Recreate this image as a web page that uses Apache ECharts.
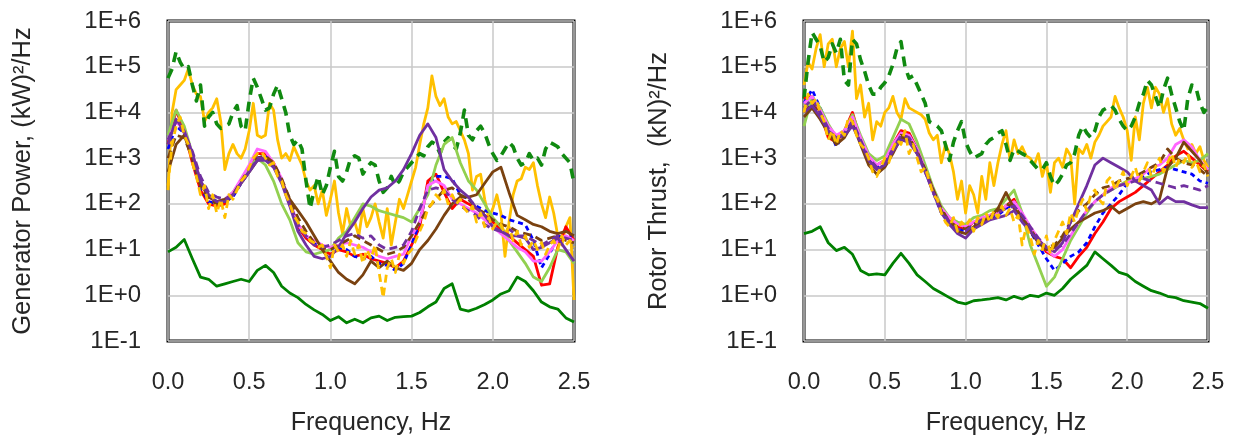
<!DOCTYPE html>
<html>
<head>
<meta charset="utf-8">
<script src="https://cdn.jsdelivr.net/npm/echarts@6/dist/echarts.min.js"></script>
<style>
  html, body { margin: 0; padding: 0; background: #fff; }
  #chart { width: 1237px; height: 441px; }
</style>
</head>
<body>
<div id="chart"></div>
<script>
// Frequency grids (Hz): coarse 0.05 Hz spectra and fine 0.025 Hz spectra
const freqCoarse = [0, 0.05, 0.1, 0.15, 0.2, 0.25, 0.3, 0.35, 0.4, 0.45,
  0.5, 0.55, 0.6, 0.65, 0.7, 0.75, 0.8, 0.85, 0.9, 0.95,
  1.0, 1.05, 1.1, 1.15, 1.2, 1.25, 1.3, 1.35, 1.4, 1.45,
  1.5, 1.55, 1.6, 1.65, 1.7, 1.75, 1.8, 1.85, 1.9, 1.95,
  2.0, 2.05, 2.1, 2.15, 2.2, 2.25, 2.3, 2.35, 2.4, 2.45, 2.5];
const freqFine = [0, 0.025, 0.05, 0.075, 0.1, 0.125, 0.15, 0.175, 0.2, 0.225,
  0.25, 0.275, 0.3, 0.325, 0.35, 0.375, 0.4, 0.425, 0.45, 0.475,
  0.5, 0.525, 0.55, 0.575, 0.6, 0.625, 0.65, 0.675, 0.7, 0.725,
  0.75, 0.775, 0.8, 0.825, 0.85, 0.875, 0.9, 0.925, 0.95, 0.975,
  1.0, 1.025, 1.05, 1.075, 1.1, 1.125, 1.15, 1.175, 1.2, 1.225,
  1.25, 1.275, 1.3, 1.325, 1.35, 1.375, 1.4, 1.425, 1.45, 1.475,
  1.5, 1.525, 1.55, 1.575, 1.6, 1.625, 1.65, 1.675, 1.7, 1.725,
  1.75, 1.775, 1.8, 1.825, 1.85, 1.875, 1.9, 1.925, 1.95, 1.975,
  2.0, 2.025, 2.05, 2.075, 2.1, 2.125, 2.15, 2.175, 2.2, 2.225,
  2.25, 2.275, 2.3, 2.325, 2.35, 2.375, 2.4, 2.425, 2.45, 2.475, 2.5];

const freqTicks = [0, 0.5, 1.0, 1.5, 2.0, 2.5];
const psdTicks = [0.1, 1, 10, 100, 1000, 10000, 100000, 1000000];

// ---- Generator power PSD, (kW)^2/Hz ----
const genRed = [2000, 11200, 4000, 800, 200, 100, 89, 100, 158, 316,
  631, 1259, 1259, 794, 316, 100, 31.6, 17.8, 12.6, 10,
  7.9, 10, 8.9, 7.1, 7.9, 6.3, 5.6, 5, 4, 5.6,
  12.6, 31.6, 316, 447, 178, 79, 126, 100, 79, 56,
  40, 28, 20, 14, 10, 7.1, 1.66, 1.78, 11.2, 31.6, 15.8];
const genBlue = [1585, 5012, 3548, 1000, 224, 112, 100, 112, 141, 282,
  562, 1000, 1122, 708, 316, 100, 31.6, 20, 14.1, 11.2,
  10, 11.2, 10, 7.1, 6.3, 7.1, 5, 4.5, 3.5, 5,
  12.6, 40, 251, 398, 398, 355, 158, 126, 89, 71,
  63, 56, 45, 40, 35, 15.8, 4, 7.9, 20, 17.8, 20];
const genPink = [2512, 6310, 3981, 1259, 316, 141, 112, 126, 178, 355,
  708, 1585, 1413, 794, 355, 112, 35.5, 20, 15.8, 12.6,
  11.2, 12.6, 14.1, 12.6, 11.2, 8.9, 7.1, 6.3, 7.1, 7.9,
  20, 40, 251, 316, 251, 126, 100, 79, 63, 45,
  31.6, 22.4, 15.8, 11.2, 8.9, 5.6, 5.6, 8.9, 15.8, 20, 15.8];
const genLime = [3162, 11220, 5012, 1259, 316, 158, 112, 126, 178, 316,
  631, 1000, 708, 316, 100, 44.7, 14.1, 8.9, 7.9, 8.9,
  10, 17.8, 25.1, 50, 100, 89, 71, 63, 56, 50,
  40, 79, 158, 708, 1995, 2818, 794, 316, 200, 100,
  50, 31.6, 15.8, 8.9, 5, 2.5, 2, 4, 10, 8.9, 5];
const genPurple = [1995, 7079, 3981, 1259, 316, 158, 112, 112, 158, 282,
  501, 891, 891, 631, 282, 89, 25.1, 12.6, 7.1, 6.3,
  7.1, 11.2, 22.4, 40, 79, 141, 200, 224, 316, 562,
  1259, 3162, 5623, 2818, 562, 316, 200, 141, 79, 56,
  31.6, 25.1, 20, 20, 17.8, 10, 11.2, 14.1, 17.8, 10, 5.6];
const genPurpleDash = [2512, 6310, 3548, 1413, 398, 178, 141, 126, 158, 282,
  501, 1000, 1000, 631, 316, 100, 35.5, 20, 12.6, 11.2,
  12.6, 15.8, 20, 22.4, 17.8, 20, 12.6, 10, 11.2, 12.6,
  25.1, 79, 200, 224, 200, 126, 89, 71, 56, 35.5,
  28.2, 25.1, 28.2, 20, 20, 15.8, 12.6, 15.8, 20, 17.8, 15.8];
const genBrown = [501, 1995, 3162, 1000, 282, 141, 112, 126, 158, 282,
  501, 891, 1000, 708, 316, 126, 71, 40, 20, 10,
  5.6, 3.16, 2.24, 1.78, 2.8, 5.6, 4, 5.6, 4, 3.5,
  5, 10, 15.8, 28.2, 56, 100, 141, 141, 158, 282,
  501, 631, 178, 56, 44.7, 35.5, 31.6, 25.1, 22.4, 25.1, 20];
const genBrownDash = [1000, 3162, 2818, 1000, 251, 126, 100, 112, 158, 316,
  562, 1000, 1122, 794, 355, 126, 50, 25.1, 14.1, 11.2,
  10, 12.6, 15.8, 20, 15.8, 12.6, 10, 7.9, 8.9, 11.2,
  20, 40, 79, 126, 200, 224, 158, 126, 79, 63,
  44.7, 35.5, 31.6, 25.1, 22.4, 20, 15.8, 17.8, 20, 15.8, 14.1];
const genGreenSolid = [8.9, 11.2, 16.6, 6.3, 2.5, 2.24, 1.58, 1.78, 2.0, 2.24,
  2.0, 3.5, 4.5, 3.16, 1.58, 1.12, 0.89, 0.63, 0.48, 0.38,
  0.28, 0.34, 0.25, 0.3, 0.25, 0.32, 0.35, 0.28, 0.33, 0.34,
  0.35, 0.42, 0.56, 0.71, 1.41, 1.78, 0.5, 0.45, 0.52, 0.63,
  0.79, 1.07, 1.26, 2.5, 2.0, 1.26, 0.71, 0.56, 0.5, 0.32, 0.26];
const genGoldDash = [251, 1995, 5012, 7943, 3162, 1995, 794, 398, 158, 251,
  79, 158, 63, 126, 50, 158, 126, 200, 316, 398,
  631, 1000, 1259, 1413, 1000, 708, 794, 398, 316, 158,
  100, 56, 40, 25.1, 22.4, 15.8, 14.1, 11.2, 12.6, 7.1,
  4, 12.6, 8.9, 12.6, 7.1, 15.8, 7.9, 12.6, 5, 10,
  6.3, 12.6, 3.16, 0.89, 4, 6.3, 3.16, 7.9, 5, 7.9,
  10, 15.8, 25.1, 40, 79, 100, 158, 126, 200, 100,
  158, 100, 126, 79, 63, 89, 40, 63, 31.6, 50,
  28.2, 40, 35.5, 22.4, 31.6, 15.8, 25.1, 12.6, 20, 11.2,
  15.8, 10, 14.1, 7.9, 12.6, 15.8, 10, 20, 12.6, 15.8, 11.2];
const genGold = [200, 10000, 31623, 39811, 50119, 89125, 39811, 25119, 22387, 6310,
  10000, 12589, 19953, 6310, 562, 1259, 1995, 1259, 1000, 1585,
  3981, 15849, 3162, 2818, 3162, 15849, 11220, 2512, 1000, 1259,
  891, 1778, 1122, 708, 316, 200, 251, 100, 200, 56,
  126, 316, 63, 22.4, 79, 31.6, 40, 20, 79, 31.6,
  50, 100, 40, 17.8, 79, 12.6, 40, 126, 79, 158,
  316, 631, 1995, 5623, 12589, 63096, 22387, 14125, 19953, 7943,
  5623, 6310, 3981, 2512, 1259, 200, 398, 447, 126, 50,
  79, 158, 63, 7.1, 40, 158, 316, 355, 631, 562,
  794, 251, 100, 50, 141, 63, 20, 12.6, 31.6, 50, 0.79];
const genGreenDash = [56234, 89125, 213796, 125893, 89125, 100000, 39811, 17783, 39811, 5012,
  7943, 10000, 5623, 4467, 5012, 5623, 10000, 14125, 5012, 3981,
  17783, 56234, 35481, 19953, 11220, 12589, 25119, 39811, 19953, 10000,
  3162, 1995, 2512, 1585, 316, 79, 200, 398, 158, 251,
  631, 1413, 398, 316, 501, 1000, 1122, 1000, 447, 631,
  794, 708, 316, 178, 224, 398, 251, 316, 501, 631,
  794, 1000, 1259, 1122, 1778, 2239, 1995, 1259, 2239, 2818,
  1995, 1585, 3548, 11220, 3162, 2512, 3981, 5012, 3548, 1995,
  1259, 891, 1122, 1585, 2239, 1778, 1000, 708, 794, 1259,
  891, 1000, 708, 1585, 2239, 1995, 1778, 1259, 1000, 794, 282];

// ---- Rotor thrust PSD, (kN)^2/Hz ----
const thrRed = [19953, 22387, 10000, 2818, 2239, 3981, 10000, 2512, 1000, 708,
  891, 1995, 3981, 3548, 1585, 631, 200, 71, 44.7, 31.6,
  28.2, 40, 44.7, 56, 63, 89, 126, 56, 28.2, 15.8,
  8.9, 7.1, 6.3, 4, 7.1, 11.2, 22.4, 40, 79, 112,
  141, 178, 251, 355, 501, 708, 1122, 1413, 1000, 708, 501];
const thrBlue = [15849, 31623, 12589, 5012, 1778, 3548, 7079, 2512, 891, 631,
  891, 1778, 3548, 3162, 1585, 562, 178, 63, 40, 28.2,
  25.1, 35.5, 40, 50, 56, 79, 100, 50, 25.1, 12.6,
  6.3, 3.5, 5, 7.1, 8.9, 14.1, 31.6, 63, 100, 158,
  282, 355, 398, 501, 562, 631, 562, 501, 447, 316, 282];
const thrPink = [15849, 22387, 11220, 5012, 3162, 3981, 7943, 2818, 1122, 708,
  891, 1995, 3548, 3162, 1585, 562, 200, 79, 50, 35.5,
  31.6, 40, 50, 56, 63, 89, 112, 63, 31.6, 17.8,
  10, 7.1, 10, 20, 40, 71, 112, 158, 224, 251,
  282, 355, 447, 631, 708, 1000, 1995, 2512, 1778, 891, 562];
const thrLime = [5012, 22387, 12589, 5623, 2818, 3981, 8913, 3162, 1259, 891,
  1122, 2818, 7079, 5623, 2239, 708, 224, 89, 50, 40,
  35.5, 50, 56, 71, 79, 126, 200, 63, 12.6, 4.5,
  1.58, 2.5, 6.3, 15.8, 31.6, 63, 112, 158, 200, 251,
  316, 355, 355, 398, 447, 562, 708, 891, 794, 891, 1259];
const thrPurple = [10000, 14125, 7943, 3981, 2818, 3162, 5012, 2239, 891, 562,
  708, 1413, 2512, 2239, 1259, 501, 178, 63, 35.5, 22.4,
  17.8, 28.2, 35.5, 44.7, 50, 56, 71, 40, 25.1, 15.8,
  11.2, 8.9, 14.1, 40, 100, 251, 708, 1000, 794, 631,
  501, 316, 251, 200, 100, 141, 112, 112, 95, 83, 83];
const thrPurpleDash = [12589, 19953, 10000, 4467, 2512, 3548, 6310, 2512, 1000, 631,
  794, 1585, 3162, 2818, 1413, 501, 178, 71, 40, 28.2,
  25.1, 35.5, 44.7, 50, 63, 79, 89, 56, 31.6, 17.8,
  11.2, 10, 12.6, 22.4, 40, 71, 112, 158, 200, 251,
  282, 316, 355, 316, 282, 251, 224, 251, 224, 200, 251];
const thrBrown = [7943, 12589, 7079, 3548, 1995, 2818, 5623, 1995, 708, 447,
  631, 1259, 2818, 2512, 1259, 562, 200, 71, 35.5, 25.1,
  22.4, 31.6, 40, 50, 79, 178, 79, 50, 25.1, 14.1,
  10, 11.2, 17.8, 28.2, 40, 50, 63, 71, 89, 63,
  79, 100, 112, 100, 126, 631, 1000, 2239, 1413, 891, 447];
const thrBrownDash = [10000, 15849, 8913, 3981, 2239, 3162, 6310, 2239, 891, 562,
  708, 1413, 3162, 2818, 1413, 562, 200, 79, 40, 31.6,
  28.2, 35.5, 44.7, 50, 71, 100, 89, 50, 28.2, 15.8,
  11.2, 12.6, 20, 40, 71, 100, 158, 224, 251, 316,
  355, 398, 501, 631, 794, 1585, 1000, 794, 708, 562, 398];
const thrGreenSolid = [22.4, 25.1, 31.6, 14.1, 9.5, 11.2, 7.9, 3.5, 2.8, 2.95,
  2.8, 5, 8.3, 5, 2.8, 2.0, 1.41, 1.12, 0.89, 0.71,
  0.65, 0.76, 0.79, 0.83, 0.89, 0.79, 0.95, 0.83, 1.0, 0.93,
  1.12, 1.0, 1.41, 2.24, 3.16, 4.5, 8.9, 6.3, 4.5, 3.16,
  2.8, 2.0, 1.58, 1.26, 1.12, 0.95, 0.89, 0.76, 0.71, 0.66, 0.52];
const thrGoldDash = [10000, 25119, 15849, 19953, 10000, 6310, 2512, 3981, 1995, 3981,
  3162, 7943, 6310, 3162, 1995, 1585, 1000, 501, 398, 631,
  1000, 794, 1585, 2512, 1995, 3981, 1259, 1995, 1000, 501,
  631, 316, 158, 126, 63, 40, 31.6, 50, 25.1, 40,
  31.6, 44.7, 25.1, 50, 35.5, 63, 40, 71, 50, 89,
  56, 79, 40, 56, 12.6, 31.6, 20, 7.9, 15.8, 10,
  20, 7.9, 15.8, 25.1, 40, 22.4, 63, 40, 79, 126,
  71, 158, 200, 126, 100, 316, 398, 200, 316, 501,
  251, 398, 631, 316, 501, 794, 398, 631, 1000, 501,
  794, 1259, 631, 1000, 794, 1259, 631, 891, 501, 708, 398];
const thrGold = [39811, 125893, 89125, 251189, 501187, 100000, 316228, 398107, 100000, 251189,
  354813, 100000, 602560, 19953, 39811, 7943, 15849, 2512, 6310, 5012,
  10000, 12589, 22387, 10000, 7079, 19953, 12589, 11220, 10000, 8913,
  7079, 3548, 2512, 3162, 794, 1995, 1259, 501, 126, 316,
  63, 251, 158, 63, 398, 126, 794, 251, 794, 1995,
  3981, 891, 2512, 1259, 1778, 1122, 1000, 708, 1259, 398,
  794, 178, 794, 1000, 631, 1585, 1122, 100, 1585, 1259,
  1995, 1000, 2239, 3162, 5012, 6310, 7943, 22387, 12589, 7943,
  3981, 891, 7943, 2512, 15849, 35481, 12589, 35481, 25119, 10000,
  19953, 5623, 3162, 4467, 2512, 1585, 1995, 1259, 1778, 891, 631];
const thrGreenDash = [19953, 125893, 562341, 398107, 281838, 125893, 158489, 316228, 199526, 398107,
  50119, 39811, 398107, 316228, 141254, 79433, 39811, 25119, 25119, 35481,
  44668, 63096, 112202, 251189, 354813, 100000, 56234, 63096, 39811, 25119,
  15849, 6310, 5623, 5012, 3981, 1995, 891, 2239, 3981, 6310,
  2239, 1413, 1000, 1122, 1259, 1995, 2512, 2818, 3548, 3981,
  1995, 891, 1585, 1413, 1259, 1122, 891, 708, 562, 562,
  794, 398, 251, 316, 447, 708, 794, 1259, 3162, 5012,
  3548, 2818, 3981, 7943, 11220, 12589, 14125, 11220, 7079, 5012,
  3981, 5012, 7943, 15849, 25119, 50119, 39811, 22387, 12589, 31623,
  56234, 25119, 12589, 6310, 3981, 19953, 39811, 35481, 15849, 10000, 14125];

// Line styles for each model, in drawing order
const styles = {
  greenSolid: { color: '#008000', width: 2.8, type: 'solid' },
  gold:       { color: '#ffc000', width: 2.8, type: 'solid' },
  greenDash:  { color: '#108a10', width: 3.6, type: [10, 7] },
  red:        { color: '#ff0000', width: 2.8, type: 'solid' },
  blue:       { color: '#0000ff', width: 2.8, type: [5, 4] },
  lime:       { color: '#92d050', width: 2.8, type: 'solid' },
  pink:       { color: '#ff66ff', width: 2.8, type: 'solid' },
  brown:      { color: '#7a4210', width: 2.8, type: 'solid' },
  brownDash:  { color: '#7a4210', width: 2.8, type: [8, 5] },
  purple:     { color: '#7030a0', width: 2.8, type: 'solid' },
  purpleDash: { color: '#7030a0', width: 2.8, type: [8, 5] },
  goldDash:   { color: '#ffc000', width: 2.8, type: [8, 5] }
};

const panels = [
  { greenSolid: genGreenSolid, gold: genGold, greenDash: genGreenDash, red: genRed, blue: genBlue,
    lime: genLime, pink: genPink, brown: genBrown, brownDash: genBrownDash, purple: genPurple,
    purpleDash: genPurpleDash, goldDash: genGoldDash },
  { greenSolid: thrGreenSolid, gold: thrGold, greenDash: thrGreenDash, red: thrRed, blue: thrBlue,
    lime: thrLime, pink: thrPink, brown: thrBrown, brownDash: thrBrownDash, purple: thrPurple,
    purpleDash: thrPurpleDash, goldDash: thrGoldDash }
];

function pairs(values) {
  const xs = values.length === freqFine.length ? freqFine : freqCoarse;
  return values.map((v, i) => [xs[i], v]);
}

const FONT = 'Liberation Sans, Arial, sans-serif';
const TEXT = '#262626';

function expLabel(v) {
  const e = Math.round(Math.log10(v));
  return '1E' + (e < 0 ? '-' : '+') + Math.abs(e);
}

const gridBoxes = [
  { left: 168, top: 21, width: 406, height: 321 },
  { left: 804, top: 21, width: 404, height: 321 }
];
const yTitles = ['Generator Power, (kW)\u00B2/Hz', 'Rotor Thrust,  (kN)\u00B2/Hz'];

const option = {
  animation: false,
  backgroundColor: '#fff',
  grid: gridBoxes.map(g => Object.assign({
    show: true, borderColor: '#000', borderWidth: 3, backgroundColor: 'transparent'
  }, g)),
  xAxis: gridBoxes.map((g, i) => ({
    type: 'value', gridIndex: i,
    min: freqTicks[0], max: freqTicks[freqTicks.length - 1], interval: 0.5,
    name: 'Frequency, Hz', nameLocation: 'middle', nameGap: 70,
    nameTextStyle: { fontFamily: FONT, fontSize: 25, color: TEXT },
    axisLine: { show: false }, axisTick: { show: false },
    axisLabel: { margin: 30, fontFamily: FONT, fontSize: 23.5, color: TEXT,
      formatter: v => v.toFixed(1) },
    splitLine: { show: true, lineStyle: { color: '#c8c8c8', width: 1.5 } }
  })),
  yAxis: gridBoxes.map((g, i) => ({
    type: 'log', logBase: 10, gridIndex: i,
    min: psdTicks[0], max: psdTicks[psdTicks.length - 1], splitNumber: 7,
    name: yTitles[i], nameLocation: 'middle', nameGap: 132,
    nameTextStyle: { fontFamily: FONT, fontSize: 25.5, color: TEXT },
    axisLine: { show: false }, axisTick: { show: false },
    axisLabel: { margin: 27, fontFamily: FONT, fontSize: 24, color: TEXT, formatter: expLabel },
    splitLine: { show: true, lineStyle: { color: '#c8c8c8', width: 1.5 } },
    minorTick: { show: false }
  })),
  series: []
};

panels.forEach((panel, pi) => {
  Object.keys(styles).forEach(key => {
    const s = styles[key];
    option.series.push({
      type: 'line', xAxisIndex: pi, yAxisIndex: pi,
      data: pairs(panel[key]),
      showSymbol: false, symbol: 'none', clip: true,
      lineStyle: { color: s.color, width: s.width, type: s.type, cap: 'butt', join: 'round' },
      emphasis: { disabled: true }
    });
  });
});

const chart = echarts.init(document.getElementById('chart'), null, { renderer: 'canvas' });
chart.setOption(option);
</script>
</body>
</html>
